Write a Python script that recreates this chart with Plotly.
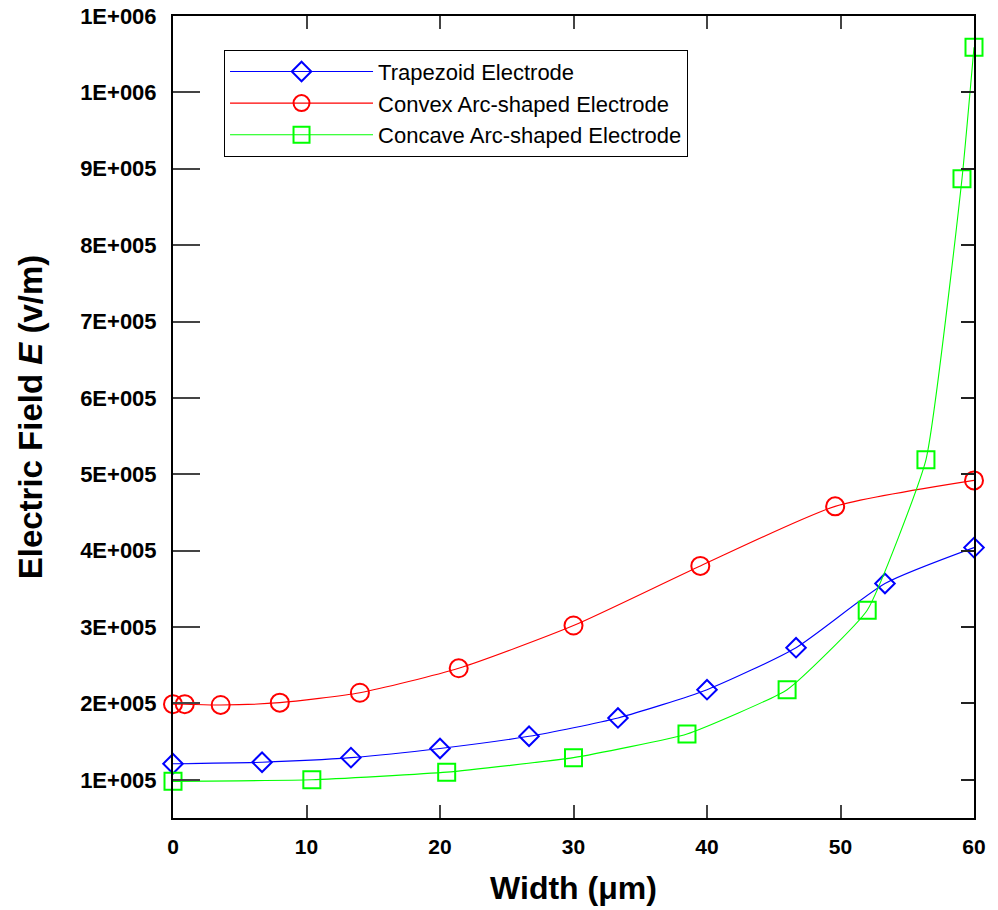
import plotly.graph_objects as go

# ---- data ----
trap_x = [0, 6.67, 13.33, 20.0, 26.67, 33.33, 40.0, 46.67, 53.33, 60.0]
trap_y = [1.21e5, 1.23e5, 1.29e5, 1.41e5, 1.57e5, 1.81e5, 2.18e5, 2.73e5, 3.57e5, 4.04e5]

convex_x = [0, 0.88, 3.57, 8.0, 14.0, 21.4, 30.0, 39.5, 49.6, 60.0]
convex_y = [1.99e5, 1.99e5, 1.98e5, 2.01e5, 2.14e5, 2.46e5, 3.02e5, 3.80e5, 4.58e5, 4.92e5]

concave_x = [0, 10.4, 20.5, 30.0, 38.5, 46.0, 52.0, 56.4, 59.1, 60.0]
concave_y = [0.98e5, 1.00e5, 1.10e5, 1.29e5, 1.60e5, 2.18e5, 3.22e5, 5.19e5, 8.87e5, 1.059e6]

series_names = ["Trapezoid Electrode", "Convex Arc-shaped Electrode", "Concave Arc-shaped Electrode"]

x_ticks = [0, 10, 20, 30, 40, 50, 60]
y_ticks = [1e5, 2e5, 3e5, 4e5, 5e5, 6e5, 7e5, 8e5, 9e5, 1e6, 1.1e6]
y_ticktext = ["1E+005", "2E+005", "3E+005", "4E+005", "5E+005", "6E+005",
              "7E+005", "8E+005", "9E+005", "1E+006", "1E+006"]

FONT = "Liberation Sans, Arial, sans-serif"

fig = go.Figure()
fig.add_trace(go.Scatter(
    x=trap_x, y=trap_y, name=series_names[0], mode="lines+markers", cliponaxis=False,
    line=dict(color="#0000ff", width=1.1, shape="spline", smoothing=0.6),
    marker=dict(symbol="diamond-open", size=15, color="#0000ff", line=dict(width=2, color="#0000ff")),
))
fig.add_trace(go.Scatter(
    x=convex_x, y=convex_y, name=series_names[1], mode="lines+markers", cliponaxis=False,
    line=dict(color="#ff0000", width=1.1, shape="spline", smoothing=0.6),
    marker=dict(symbol="circle-open", size=18, color="#ff0000", line=dict(width=2, color="#ff0000")),
))
fig.add_trace(go.Scatter(
    x=concave_x, y=concave_y, name=series_names[2], mode="lines+markers", cliponaxis=False,
    line=dict(color="#00ff00", width=1.1, shape="spline", smoothing=0.4),
    marker=dict(symbol="square-open", size=17, color="#00ff00", line=dict(width=2, color="#00ff00")),
))
# invisible trace on a right-hand overlay axis for short right ticks
fig.add_trace(go.Scatter(x=[None], y=[None], yaxis="y2", showlegend=False, hoverinfo="skip"))

fig.update_layout(
    width=998, height=910,
    margin=dict(l=173, r=24, t=16, b=92, autoexpand=False),
    paper_bgcolor="white", plot_bgcolor="white",
    font=dict(family=FONT, color="black"),
    showlegend=True,
    legend=dict(
        x=0.0637, y=0.958, xanchor="left", yanchor="top",
        bordercolor="black", borderwidth=1, bgcolor="white",
        font=dict(size=22, family=FONT, color="black"),
        itemwidth=143, tracegroupgap=0,
    ),
    xaxis=dict(
        range=[0, 60], tickvals=x_ticks, ticks="inside", ticklen=13, tickwidth=1.5,
        tickcolor="#444", showline=True, linecolor="black", linewidth=2, mirror="ticks",
        showgrid=False, zeroline=False, automargin=False,
        tickfont=dict(size=21, family=FONT, color="black", weight="bold"),
        ticklabelstandoff=9,
        title=dict(text="<b>Width (μm)</b>", font=dict(size=32, family=FONT, color="black"), standoff=19),
    ),
    yaxis=dict(
        range=[0.5e5, 1.1e6], tickvals=y_ticks, ticktext=y_ticktext, ticks="inside", ticklen=27,
        tickwidth=1.5, tickcolor="#444", showline=True, linecolor="black", linewidth=2, mirror=True,
        showgrid=False, zeroline=False, automargin=False,
        tickfont=dict(size=22, family=FONT, color="black", weight="bold"),
        ticklabelstandoff=10,
        title=dict(text="<b>Electric Field <i>E</i> (v/m)</b>", font=dict(size=33, family=FONT, color="black"), standoff=28),
    ),
    yaxis2=dict(
        overlaying="y", side="right", matches="y", range=[0.5e5, 1.1e6], tickvals=y_ticks,
        ticks="inside", ticklen=13, tickwidth=1.5, tickcolor="#222", showticklabels=False,
        showgrid=False, zeroline=False, showline=False, automargin=False,
    ),
)

fig.write_html("out.html")
